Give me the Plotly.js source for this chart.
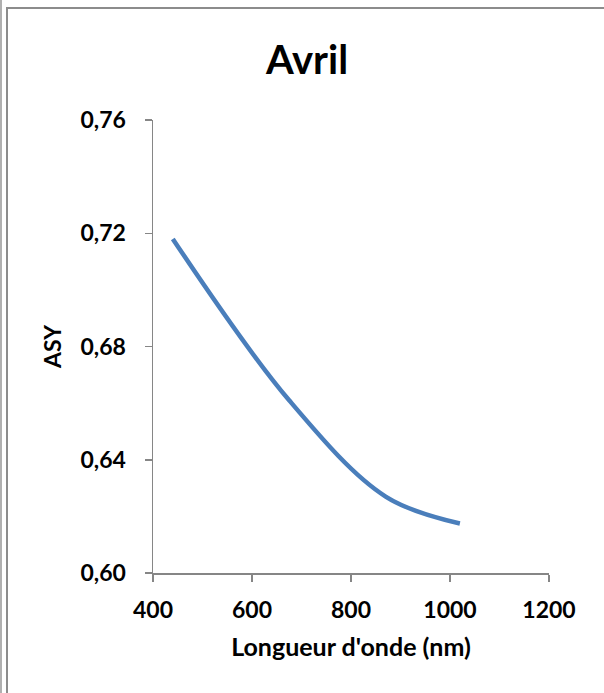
<!DOCTYPE html>
<html>
<head>
<meta charset="utf-8">
<script src="https://cdn.plot.ly/plotly-3.0.1.min.js"></script>
<style>
  html, body { margin: 0; padding: 0; background: #ffffff; }
  #wrap { position: relative; width: 604px; height: 693px; overflow: hidden; }
  #chart { position: absolute; left: 0; top: 0; width: 604px; height: 693px; }
  .bl { position: absolute; pointer-events: none; z-index: 10; }
</style>
</head>
<body>
<div id="wrap">
  <div id="chart"></div>
  <div class="bl" style="left:0px; top:0px; width:2px; height:693px; background:#b0b0b0;"></div>
  <div class="bl" style="left:6px; top:7px; width:2px; height:686px; background:#8c8c8c;"></div>
  <div class="bl" style="left:6px; top:7px; width:598px; height:2px; background:#8c8c8c;"></div>
</div>
<script>
// Data
var chartTitle = "Avril";
var xTitle = "Longueur d'onde (nm)";
var yTitle = "ASY";
var wavelength = [440, 675, 870, 1020];
var asy = [0.718, 0.661, 0.627, 0.6175];
var xTicks = [400, 600, 800, 1000, 1200];
var yTicks = [0.60, 0.64, 0.68, 0.72, 0.76];

var fontFam = "Lato, 'Open Sans', sans-serif";

var trace = {
  x: wavelength,
  y: asy,
  type: 'scatter',
  mode: 'lines',
  line: { color: '#4A7EBB', width: 4.5, shape: 'spline', smoothing: 1 },
  hoverinfo: 'skip'
};

var layout = {
  width: 604,
  height: 693,
  paper_bgcolor: '#ffffff',
  plot_bgcolor: '#ffffff',
  separators: ', ',
  showlegend: false,
  margin: { l: 153, r: 55, t: 120, b: 120, pad: 0 },
  font: { family: fontFam, color: '#000000', size: 22, weight: 'bold' },
  title: {
    text: chartTitle,
    font: { family: fontFam, size: 40, color: '#000000', weight: 'bold' },
    x: 307 / 604,
    xanchor: 'center',
    xref: 'container',
    y: 1 - 60 / 693,
    yanchor: 'middle',
    yref: 'container'
  },
  xaxis: {
    range: [400, 1200],
    tickvals: xTicks,
    tickformat: 'd',
    showgrid: false,
    zeroline: false,
    showline: true,
    linecolor: '#868686',
    linewidth: 1.5,
    ticks: 'outside',
    ticklen: 7,
    tickwidth: 1.5,
    tickcolor: '#868686',
    ticklabelstandoff: 9,
    tickfont: { family: fontFam, size: 23, color: '#000000', weight: 'bold' },
    title: {
      text: xTitle,
      standoff: 16,
      font: { family: fontFam, size: 25, color: '#000000', weight: 'bold' }
    },
    fixedrange: true
  },
  yaxis: {
    range: [0.60, 0.76],
    tickvals: yTicks,
    tickformat: '.2f',
    showgrid: false,
    zeroline: false,
    showline: true,
    linecolor: '#868686',
    linewidth: 1.5,
    ticks: 'outside',
    ticklen: 7,
    tickwidth: 1.5,
    tickcolor: '#868686',
    ticklabelstandoff: 14,
    tickfont: { family: fontFam, size: 23, color: '#000000', weight: 'bold' },
    title: {
      text: yTitle,
      standoff: 12,
      font: { family: fontFam, size: 23, color: '#000000', weight: 'bold' }
    },
    fixedrange: true
  }
};

Plotly.newPlot('chart', [trace], layout, { staticPlot: true, displayModeBar: false });
</script>
</body>
</html>
